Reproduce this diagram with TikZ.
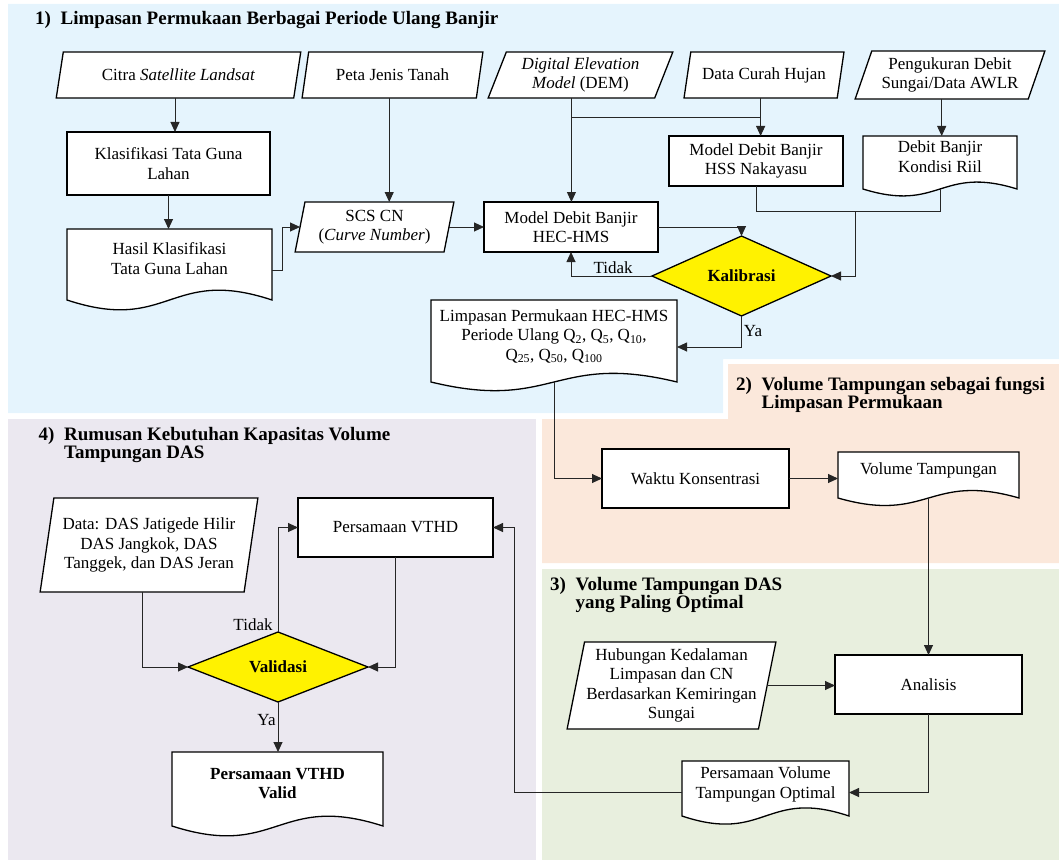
\documentclass[tikz,border=0pt]{standalone}
\usepackage{fontspec}
\setmainfont{Liberation Serif}
\usetikzlibrary{shapes.geometric,arrows.meta,calc}
\pgfdeclarelayer{background}
\pgfdeclarelayer{shapes}
\pgfsetlayers{background,shapes,main}
\definecolor{bgblue}{RGB}{229,244,253}
\definecolor{bgorange}{RGB}{251,232,219}
\definecolor{bggreen}{RGB}{232,239,222}
\definecolor{bgpurple}{RGB}{235,232,240}
\newcommand\bodyfont{\fontsize{17}{19.5}\selectfont}
\newcommand\titlefont{\fontsize{19}{17.5}\selectfont\bfseries}
\newcommand\tnum[1]{\makebox[25.5pt][l]{#1}}
\newcommand\upbox[1]{\raisebox{4pt}[\height][\depth]{\begin{tabular}{@{}c@{}}#1\end{tabular}}}
\tikzset{
  nbase/.style={font=\bodyfont, align=center, inner sep=0pt, outer sep=0pt},
  box/.style={nbase, rectangle, draw=black, line width=1.3pt, fill=white},
  para/.style={nbase, trapezium, trapezium stretches=true, draw=black, line width=1.3pt, fill=white},
  decision/.style={nbase, diamond, draw=black, line width=1.3pt, fill=yellow, font=\bodyfont\bfseries},
  doctxt/.style={nbase, rectangle},
  docshape/.style={draw=black, line width=1.3pt, fill=white},
  conn/.style={draw=black!85, line width=0.9pt},
  arr/.style={conn, -{Triangle[length=10pt,width=9pt]}},
  lbl/.style={font=\bodyfont, inner sep=2pt},
  ttl/.style={font=\titlefont, inner sep=0pt, align=left},
}
\newcommand\docnode[7]{%
  \node[doctxt, minimum width=#4pt, minimum height=#5pt] (#1) at (#2,#3) {\upbox{#7}};
  \begin{pgfonlayer}{shapes}
    \path[docshape] (#1.north west) -- (#1.north east) -- (#1.south east)
      .. controls ($(#1.south)+(0,-#6)$) and ($(#1.south)+(0,#6)$) .. (#1.south west) -- cycle;
  \end{pgfonlayer}}
\begin{document}
\begin{tikzpicture}[x=1pt,y=-1pt]
\useasboundingbox (0,0) rectangle (1059,861);
% ---------- regions
\begin{pgfonlayer}{background}
  \fill[bgblue] (8,4) -- (1059,4) -- (1059,359) -- (723,359) -- (723,413) -- (8,413) -- cycle;
  \fill[bgorange] (728,364) -- (1059,364) -- (1059,563) -- (542,563) -- (542,419) -- (728,419) -- cycle;
  \fill[bgpurple] (8,419) rectangle (536,860);
  \fill[bggreen] (542,569) rectangle (1059,860);
\end{pgfonlayer}
% ---------- titles
\node[ttl, anchor=base west] (t1) at (35,24.5) {\tnum{1)}Limpasan Permukaan Berbagai Periode Ulang Banjir};
\node[ttl, anchor=base west] (t2) at (736,390) {\begin{tabular}[t]{@{}l@{}}\tnum{2)}Volume Tampungan sebagai fungsi\\\tnum{}Limpasan Permukaan\end{tabular}};
\node[ttl, anchor=base west] (t3) at (550,590.5) {\begin{tabular}[t]{@{}l@{}}\tnum{3)}Volume Tampungan DAS\\\tnum{}yang Paling Optimal\end{tabular}};
\node[ttl, anchor=base west] (t4) at (38.5,440.5) {\begin{tabular}[t]{@{}l@{}}\tnum{4)}Rumusan Kebutuhan Kapasitas Volume\\\tnum{}Tampungan DAS\end{tabular}};
% ---------- section 1
\node[para, trapezium left angle=68.6, trapezium right angle=111.4, minimum width=245pt, minimum height=46pt] (citra) at (178.5,75) {Citra \textit{Satellite Landsat}};
\node[para, trapezium left angle=69.7, trapezium right angle=110.3, minimum width=181pt, minimum height=46pt] (peta) at (392.5,75) {Peta Jenis Tanah};
\node[para, trapezium left angle=67.6, trapezium right angle=112.4, minimum width=185pt, minimum height=46pt] (dem) at (580.5,75) {\textit{Digital Elevation}\\\textit{Model} (DEM)};
\node[para, trapezium left angle=69.7, trapezium right angle=110.3, minimum width=160pt, minimum height=46pt] (curah) at (764,75) {Data Curah Hujan};
\node[para, trapezium left angle=67.4, trapezium right angle=112.6, minimum width=190pt, minimum height=48pt] (peng) at (950,75) {Pengukuran Debit\\Sungai/Data AWLR};
\node[box, minimum width=203pt, minimum height=63pt] (klas) at (168.5,163.5) {Klasifikasi Tata Guna\\Lahan};
\docnode{hasil}{169.5}{264.5}{205}{71}{34}{Hasil Klasifikasi\\Tata Guna Lahan}
\node[para, trapezium left angle=77, trapezium right angle=103, minimum width=159pt, minimum height=50pt] (scs) at (374.5,227) {SCS CN\\(\textit{Curve Number})};
\node[box, minimum width=174pt, minimum height=50pt] (hec) at (571,227) {Model Debit Banjir\\HEC-HMS};
\node[box, minimum width=174pt, minimum height=50pt] (nak) at (756,161) {Model Debit Banjir\\HSS Nakayasu};
\docnode{riil}{940}{162.5}{154}{53}{24}{Debit Banjir\\Kondisi Riil}
\node[decision, minimum width=179pt, minimum height=48pt] (kal) at (741.5,276) {Kalibrasi};
\docnode{limp}{554}{341}{246}{82}{30}{Limpasan Permukaan HEC-HMS\\Periode Ulang Q\textsubscript{2}, Q\textsubscript{5}, Q\textsubscript{10},\\Q\textsubscript{25}, Q\textsubscript{50}, Q\textsubscript{100}}
% ---------- section 2
\node[box, minimum width=187pt, minimum height=59pt] (waktu) at (695.5,478.5) {Waktu Konsentrasi};
\docnode{vol}{928.5}{475}{181}{46}{26}{Volume Tampungan}
% ---------- section 3
\node[para, trapezium left angle=77, trapezium right angle=103, minimum width=209pt, minimum height=87pt] (hub) at (671.5,685.5) {Hubungan Kedalaman\\Limpasan dan CN\\Berdasarkan Kemiringan\\Sungai};
\node[box, minimum width=187pt, minimum height=59pt] (ana) at (928.5,684.5) {Analisis};
\docnode{opt}{765.5}{788.5}{167}{55}{28}{Persamaan Volume\\Tampungan Optimal}
% ---------- section 4
\node[para, trapezium left angle=77.1, trapezium right angle=102.9, minimum width=218pt, minimum height=94pt] (data) at (149,545) {Data: DAS Jatigede Hilir\\DAS Jangkok, DAS\\Tanggek, dan DAS Jeran};
\node[box, minimum width=195pt, minimum height=59pt] (vthd) at (395.5,527.5) {Persamaan VTHD};
\node[decision, minimum width=180pt, minimum height=50pt] (val) at (278,667) {Validasi};
\docnode{valid}{277.5}{789}{211}{74}{34}{\textbf{Persamaan VTHD}\\\textbf{Valid}}
% ---------- connectors section 1
\draw[arr] (citra.bottom side) -- (citra.bottom side |- klas.north);
\draw[arr] (klas.south) -- (klas.south |- hasil.north);
\draw[arr] ([yshift=-5.5pt]hasil.east) -- ++(10,0) |- (scs.left side);
\draw[arr] (peta.bottom side) -- (peta.bottom side |- scs.top side);
\draw[arr] (scs.right side) -- (scs.right side -| hec.west);
\draw[arr] (dem.bottom side) -- (dem.bottom side |- hec.north);
\coordinate (j1) at ($(curah.bottom side)!0.5!(curah.bottom side |- nak.north)$);
\draw[conn] (j1) -- (j1 -| dem.bottom side);
\draw[arr] (curah.bottom side) -- (curah.bottom side |- nak.north);
\draw[arr] (peng.bottom side) -- (peng.bottom side |- riil.north);
\coordinate (j2) at ($(nak.south)+(0,25)$);
\draw[conn] (nak.south) -- (j2) -| (riil.south);
\coordinate (j3) at ($(j2)!0.538!(j2 -| riil.south)$);
\draw[arr] (j3) |- (kal.east);
\draw[arr] (hec.east) -| (kal.north);
\draw[arr] (kal.west) -| (hec.south) node[lbl, pos=0.24, above] (lt1) {Tidak};
\draw[arr] (kal.south) |- ([yshift=-6pt]limp.east) node[lbl, pos=0.25, right] (ly1) {Ya};
% ---------- connectors sections 2-3
\draw[arr] (limp.south) |- (waktu.west);
\draw[arr] (waktu.east) -- (waktu.east -| vol.west);
\draw[arr] (vol.south) -- (vol.south |- ana.north);
\draw[arr] (hub.right side) -- (hub.right side -| ana.west);
\draw[arr] (ana.south) |- ([yshift=-4pt]opt.east);
\draw[arr] ([yshift=-4pt]opt.west) -| ($(vthd.east)+(21,0)$) |- (vthd.east);
% ---------- connectors section 4
\draw[arr] (data.bottom side) |- (val.west);
\draw[arr] (val.north) |- (vthd.west) node[lbl, pos=0.035, left=3pt] (lt2) {Tidak};
\draw[arr] (vthd.south) |- (val.east);
\draw[arr] (val.south) -- (val.south |- valid.north) node[lbl, pos=0.36, left] (ly2) {Ya};
\end{tikzpicture}
\end{document}
